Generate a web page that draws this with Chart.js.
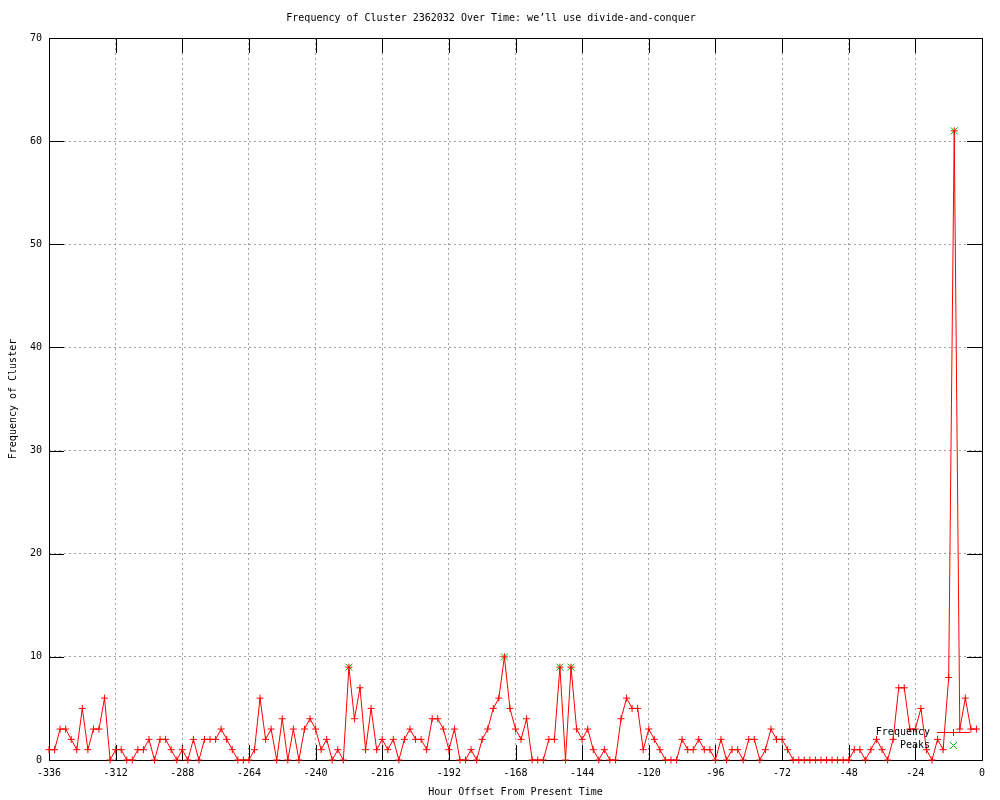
<!DOCTYPE html>
<html>
<head>
<meta charset="utf-8">
<script src="https://cdn.jsdelivr.net/npm/chart.js@4/dist/chart.umd.min.js"></script>
<style>
  html, body { margin: 0; padding: 0; background: #fff; }
  #wrap { width: 1000px; height: 800px; }
</style>
</head>
<body>
<div id="wrap"><canvas id="myChart" width="1000" height="800"></canvas></div>
<script>
const hours = [
  -336,-334,-332,-330,-328,-326,-324,-322,-320,-318,
  -316,-314,-312,-310,-308,-306,-304,-302,-300,-298,
  -296,-294,-292,-290,-288,-286,-284,-282,-280,-278,
  -276,-274,-272,-270,-268,-266,-264,-262,-260,-258,
  -256,-254,-252,-250,-248,-246,-244,-242,-240,-238,
  -236,-234,-232,-230,-228,-226,-224,-222,-220,-218,
  -216,-214,-212,-210,-208,-206,-204,-202,-200,-198,
  -196,-194,-192,-190,-188,-186,-184,-182,-180,-178,
  -176,-174,-172,-170,-168,-166,-164,-162,-160,-158,
  -156,-154,-152,-150,-148,-146,-144,-142,-140,-138,
  -136,-134,-132,-130,-128,-126,-124,-122,-120,-118,
  -116,-114,-112,-110,-108,-106,-104,-102,-100,-98,
  -96,-94,-92,-90,-88,-86,-84,-82,-80,-78,
  -76,-74,-72,-70,-68,-66,-64,-62,-60,-58,
  -56,-54,-52,-50,-48,-46,-44,-42,-40,-38,
  -36,-34,-32,-30,-28,-26,-24,-22,-20,-18,
  -16,-14,-12,-10,-8,-6,-4,-2
]
const frequency = [
  1,1,3,3,2,1,5,1,3,3,
  6,0,1,1,0,0,1,1,2,0,
  2,2,1,0,1,0,2,0,2,2,
  2,3,2,1,0,0,0,1,6,2,
  3,0,4,0,3,0,3,4,3,1,
  2,0,1,0,9,4,7,1,5,1,
  2,1,2,0,2,3,2,2,1,4,
  4,3,1,3,0,0,1,0,2,3,
  5,6,10,5,3,2,4,0,0,0,
  2,2,9,0,9,3,2,3,1,0,
  1,0,0,4,6,5,5,1,3,2,
  1,0,0,0,2,1,1,2,1,1,
  0,2,0,1,1,0,2,2,0,1,
  3,2,2,1,0,0,0,0,0,0,
  0,0,0,0,0,1,1,0,1,2,
  1,0,2,7,7,3,3,5,1,0,
  2,1,8,61,3,6,3,3
]
const peakHours = [-228, -172, -152, -148, -10]
const peakValues = [9, 10, 9, 9, 61]
const xTicks = [-336, -312, -288, -264, -240, -216, -192, -168, -144, -120, -96, -72, -48, -24, 0]

const monoFont = { family: "'DejaVu Sans Mono', monospace", size: 10, lineHeight: 1.2 }
const red = '#ff0000'
const green = '#00c000'
const gridColor = '#a0a0a0'

// border box, inward ticks on all four sides, and the key in the lower right
const gnuFrame = {
  id: 'gnuFrame',
  beforeDatasetsDraw(chart) {
    const c = chart.ctx
    const a = chart.chartArea
    const x = chart.scales.x
    const y = chart.scales.y
    const len = 15
    c.save()
    c.strokeStyle = '#000'
    c.lineWidth = 1
    c.beginPath()
    x.ticks.forEach((t) => {
      const px = Math.round(x.getPixelForValue(t.value)) + 0.5
      c.moveTo(px, a.bottom); c.lineTo(px, a.bottom - len)
      c.moveTo(px, a.top); c.lineTo(px, a.top + len)
    })
    y.ticks.forEach((t) => {
      const py = Math.round(y.getPixelForValue(t.value)) + 0.5
      c.moveTo(a.left, py); c.lineTo(a.left + len, py)
      c.moveTo(a.right, py); c.lineTo(a.right - len, py)
    })
    c.stroke()
    c.strokeRect(Math.round(a.left) + 0.5, Math.round(a.top) + 0.5, Math.round(a.right - a.left), Math.round(a.bottom - a.top))
    c.restore()
  },
  afterDatasetsDraw(chart) {
    const c = chart.ctx
    const a = chart.chartArea
    const textRight = a.right - 52
    const sampleL = a.right - 45
    const sampleR = a.right - 12
    const mid = (sampleL + sampleR) / 2
    const row1 = a.bottom - 27.5
    const row2 = a.bottom - 14.5
    c.save()
    c.font = "10px 'DejaVu Sans Mono', monospace"
    c.fillStyle = '#000'
    c.textAlign = 'right'
    c.textBaseline = 'middle'
    c.fillText('Frequency', textRight, row1)
    c.fillText('Peaks', textRight, row2)
    c.lineWidth = 1
    c.strokeStyle = red
    c.beginPath()
    c.moveTo(sampleL, row1); c.lineTo(sampleR, row1)
    c.moveTo(mid - 3.5, row1); c.lineTo(mid + 3.5, row1)
    c.moveTo(mid, row1 - 3.5); c.lineTo(mid, row1 + 3.5)
    c.stroke()
    c.strokeStyle = green
    c.beginPath()
    c.moveTo(mid - 3.5, row2 - 3.5); c.lineTo(mid + 3.5, row2 + 3.5)
    c.moveTo(mid + 3.5, row2 - 3.5); c.lineTo(mid - 3.5, row2 + 3.5)
    c.stroke()
    c.restore()
  }
}

const chartEle = document.getElementById('myChart')

const chart = new Chart(chartEle, {
  type: 'line',
  data: {
    datasets: [{
      label: 'Frequency',
      data: hours.map((h, i) => ({ x: h, y: frequency[i] })),
      borderColor: red,
      borderWidth: 1,
      tension: 0,
      pointStyle: 'cross',
      pointRadius: 3.5,
      pointBorderColor: red,
      pointBorderWidth: 1,
      clip: false
    }, {
      label: 'Peaks',
      data: peakHours.map((h, i) => ({ x: h, y: peakValues[i] })),
      showLine: false,
      borderColor: green,
      pointStyle: 'crossRot',
      pointRadius: 5,
      pointBorderColor: green,
      pointBorderWidth: 1,
      clip: false
    }]
  },
  options: {
    responsive: false,
    animation: false,
    devicePixelRatio: 1,
    layout: { padding: { left: 0, right: 18, top: 0, bottom: 0 } },
    plugins: {
      legend: { display: false },
      tooltip: { enabled: false },
      title: {
        display: true,
        text: 'Frequency of Cluster 2362032 Over Time: we\u2019ll use divide-and-conquer',
        color: '#000',
        font: Object.assign({}, monoFont, { weight: 'normal' }),
        padding: { top: 12, bottom: 14 }
      }
    },
    scales: {
      x: {
        type: 'linear',
        min: -336,
        max: 0,
        afterBuildTicks(scale) {
          scale.ticks = xTicks.map((v) => ({ value: v }))
        },
        afterFit(scale) { scale.height = 40 },
        ticks: { color: '#000', font: monoFont, padding: 7, maxRotation: 0, autoSkip: false },
        grid: { color: gridColor, lineWidth: 1, drawTicks: false },
        border: { display: false, dash: [2, 3] },
        title: {
          display: true,
          text: 'Hour Offset From Present Time',
          color: '#000',
          font: monoFont,
          padding: { top: 0, bottom: 2 }
        }
      },
      y: {
        min: 0,
        max: 70,
        ticks: { stepSize: 10, color: '#000', font: monoFont, padding: 7 },
        afterFit(scale) { scale.width = 49 },
        grid: { color: gridColor, lineWidth: 1, drawTicks: false },
        border: { display: false, dash: [2, 3] },
        title: {
          display: true,
          text: 'Frequency of Cluster',
          color: '#000',
          font: monoFont,
          padding: { top: 7, bottom: 0 }
        }
      }
    }
  },
  plugins: [gnuFrame]
})
</script>
</body>
</html>
